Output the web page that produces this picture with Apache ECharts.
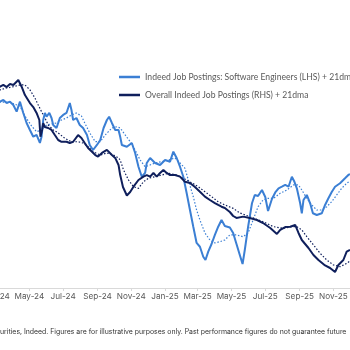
<!DOCTYPE html>
<html>
<head>
<meta charset="utf-8">
<script src="https://cdn.jsdelivr.net/npm/echarts@6/dist/echarts.min.js"></script>
<style>html,body{margin:0;padding:0;background:#fff}#c{width:350px;height:350px}</style>
</head>
<body>
<div id="c"></div>
<script>
// x values are day offsets from 2024-03-01
const tickDates = ['2024-03-01','2024-05-01','2024-07-01','2024-09-01','2024-11-01','2025-01-01','2025-03-01','2025-05-01','2025-07-01','2025-09-01','2025-11-01'];
const tickLabels = ['Mar-24','May-24','Jul-24','Sep-24','Nov-24','Jan-25','Mar-25','May-25','Jul-25','Sep-25','Nov-25'];
const seriesNames = ['Indeed Job Postings: Software Engineers (LHS) + 21dma', 'Overall Indeed Job Postings (RHS) + 21dma'];

// Software engineers postings (LHS)
const softwareDaily = [[1,73.38],[8,73.29],[14,73.5],[20,73.13],[26,73.29],[32,72.88],[38,72.04],[44,73.29],[47,73.13],[50,71.88],[56,70.63],[62,69.75],[68,68.91],[74,69.13],[80,68.13],[83,68.91],[86,71.0],[89,71.88],[92,71.41],[97,71.88],[101,71.25],[104,70.38],[110,70.0],[116,71.25],[122,71.63],[128,71.88],[134,73.13],[137,72.25],[140,71.0],[146,71.25],[152,70.38],[158,70.0],[165,69.13],[170,67.88],[176,67.25],[183,67.88],[189,68.5],[195,70.0],[201,71.0],[205,71.41],[210,70.63],[216,69.75],[222,69.75],[225,68.91],[228,67.88],[237,67.66],[246,68.13],[252,66.88],[258,65.16],[264,63.91],[270,64.38],[273,65.63],[279,66.25],[288,65.63],[297,65.38],[306,66.0],[315,65.79],[321,67.04],[327,66.25],[333,65.16],[339,63.91],[345,61.88],[351,59.75],[357,57.66],[363,55.63],[369,55.16],[375,53.91],[379,53.5],[384,54.54],[390,55.5],[396,56.63],[402,57.66],[408,58.5],[414,57.75],[423,57.56],[429,56.88],[435,55.5],[441,54.13],[446,53.0],[450,54.75],[456,57.66],[463,60.59],[468,61.63],[474,61.5],[481,62.25],[487,61.38],[492,59.63],[499,61.13],[505,61.94],[511,62.46],[517,62.66],[523,62.88],[529,62.66],[535,63.91],[539,63.38],[544,62.46],[550,60.59],[553,59.34],[556,61.0],[562,61.63],[568,60.59],[573,59.34],[580,59.13],[589,59.34],[595,60.38],[601,61.21],[607,62.0],[613,62.66],[622,63.09],[631,63.71],[637,64.13],[640,64.25]];
const software21dma = [[1,73.25],[8,73.25],[26,73.19],[44,72.75],[53,71.5],[65,70.25],[74,69.54],[83,69.75],[92,70.38],[101,70.5],[110,70.63],[119,71.0],[128,71.25],[137,71.63],[146,71.88],[155,71.5],[161,70.63],[170,69.38],[180,68.29],[189,68.29],[198,69.13],[210,70.0],[219,70.16],[225,70.0],[234,69.13],[243,68.29],[252,67.25],[261,66.0],[270,65.16],[279,65.38],[288,65.63],[300,65.79],[312,66.0],[324,66.25],[333,65.63],[342,64.96],[348,63.5],[357,61.41],[363,59.75],[369,58.5],[378,56.88],[387,56.0],[396,55.63],[405,55.79],[414,56.0],[423,56.63],[435,56.63],[447,56.41],[456,56.88],[465,58.5],[474,60.16],[483,61.0],[492,61.21],[502,61.21],[514,61.84],[526,62.25],[538,62.88],[547,62.88],[553,62.25],[562,61.21],[571,60.38],[580,59.75],[589,59.75],[598,60.16],[607,60.79],[616,61.63],[625,62.46],[634,63.09],[640,63.38]];

// Overall postings (RHS)
const overallDaily = [[1,119.5],[8,119.58],[14,119.69],[20,119.56],[26,119.75],[32,119.69],[41,120.0],[47,119.58],[53,119.06],[62,118.56],[68,118.31],[74,117.94],[79,117.5],[81,116.46],[84,116.88],[86,117.31],[89,117.06],[95,117.0],[101,116.88],[107,116.56],[113,116.25],[119,116.14],[128,116.14],[134,116.06],[140,116.14],[149,116.56],[155,116.38],[161,116.06],[167,115.75],[174,115.52],[180,115.31],[185,115.21],[192,115.44],[201,115.63],[210,115.31],[216,115.13],[222,114.69],[225,114.06],[230,113.31],[237,112.78],[243,113.0],[249,113.33],[258,113.75],[267,113.96],[273,114.06],[279,113.96],[285,114.19],[291,113.96],[297,114.19],[303,114.38],[309,114.19],[315,114.06],[324,114.06],[333,113.96],[342,113.64],[351,113.56],[360,113.31],[369,113.02],[378,112.71],[387,112.5],[396,112.31],[402,112.19],[408,112.08],[414,112.0],[423,111.75],[429,111.5],[435,111.38],[447,111.46],[459,111.38],[472,111.25],[483,111.06],[496,110.75],[508,110.38],[514,110.63],[523,110.81],[532,110.83],[541,110.94],[547,110.44],[553,110.0],[565,109.5],[574,109.06],[583,108.75],[595,108.41],[604,108.25],[613,108.0],[619,108.44],[628,108.75],[634,109.27],[640,109.38]];
const overall21dma = [[1,119.34],[8,119.38],[20,119.5],[32,119.58],[44,119.69],[53,119.69],[62,119.38],[71,118.88],[77,118.44],[83,118.02],[89,117.63],[95,117.19],[104,116.88],[113,116.69],[125,116.36],[137,116.14],[149,116.14],[158,116.06],[167,115.83],[176,115.52],[189,115.31],[201,115.44],[213,115.31],[222,115.13],[225,115.0],[231,114.38],[240,113.75],[249,113.33],[258,113.23],[267,113.64],[276,113.86],[288,113.96],[300,114.06],[312,114.17],[327,114.06],[339,113.86],[351,113.64],[366,113.33],[378,113.02],[390,112.71],[402,112.39],[414,112.19],[429,111.98],[441,111.69],[459,111.46],[483,111.14],[502,110.83],[520,110.73],[535,110.83],[544,110.83],[553,110.63],[562,110.21],[574,109.69],[586,109.17],[598,108.75],[610,108.44],[622,108.33],[634,108.54],[640,108.69]];

const LIGHT = '#3b7fd4';
const NAVY = '#0f1f5c';

function dayToTime(d) { return new Date(2024, 2, 1 + d).getTime(); }
function dateToTime(s) { const p = s.split('-').map(Number); return new Date(p[0], p[1] - 1, p[2]).getTime(); }
function toSeries(arr) { return arr.map(p => [dayToTime(p[0]), p[1]]); }
const tickTimes = tickDates.map(dateToTime);

const chart = echarts.init(document.getElementById('c'), null, {renderer: 'canvas'});
chart.setOption({
  animation: false,
  backgroundColor: '#ffffff',
  grid: {left: -4.4, right: 0, top: 0, bottom: 62, containLabel: false, outerBoundsMode: 'none'},
  legend: {
    orient: 'vertical', left: 119, top: 71, padding: 0, itemGap: 6,
    icon: 'rect', itemWidth: 21, itemHeight: 2.5,
    data: [{name: seriesNames[0], itemStyle: {color: LIGHT}}, {name: seriesNames[1], itemStyle: {color: NAVY}}],
    textStyle: {fontFamily: 'Lato', fontSize: 8.6, color: '#595959', lineHeight: 12}
  },
  xAxis: {
    type: 'value',
    min: dateToTime('2024-03-01'), max: dateToTime('2025-12-01'),
    splitLine: {show: false},
    axisLine: {show: true, lineStyle: {color: '#d9d9d9', width: 1}},
    axisTick: {show: true, length: 3, lineStyle: {color: '#d9d9d9'}, customValues: tickTimes},
    axisLabel: {
      customValues: tickTimes, margin: 5,
      fontFamily: 'Inter', fontSize: 8.2, color: '#595959',
      formatter: function (v) { const i = tickTimes.indexOf(v); return i >= 0 ? tickLabels[i] : ''; }
    }
  },
  yAxis: [
    {type: 'value', min: 50, max: 86, show: false, splitLine: {show: false}},
    {type: 'value', min: 107, max: 125, show: false, splitLine: {show: false}}
  ],
  series: [
    {name: seriesNames[0] + ' dma', type: 'line', yAxisIndex: 0, data: toSeries(software21dma), symbol: 'none', lineStyle: {color: LIGHT, width: 1.2, type: [1.5, 1.8]}, z: 2},
    {name: seriesNames[1] + ' dma', type: 'line', yAxisIndex: 1, data: toSeries(overall21dma), symbol: 'none', lineStyle: {color: NAVY, width: 1.2, type: [1.5, 1.8]}, z: 2},
    {name: seriesNames[0], type: 'line', yAxisIndex: 0, data: toSeries(softwareDaily), symbol: 'none', color: LIGHT, lineStyle: {color: LIGHT, width: 2}, z: 3},
    {name: seriesNames[1], type: 'line', yAxisIndex: 1, data: toSeries(overallDaily), symbol: 'none', color: NAVY, lineStyle: {color: NAVY, width: 2}, z: 4}
  ],
  graphic: [{
    type: 'text', left: 0, top: 328,
    style: {text: 'urities, Indeed. Figures are for illustrative purposes only. Past performance figures do not guarantee future', font: '6.9px Inter', fill: '#333333'}
  }]
});
</script>
</body>
</html>
